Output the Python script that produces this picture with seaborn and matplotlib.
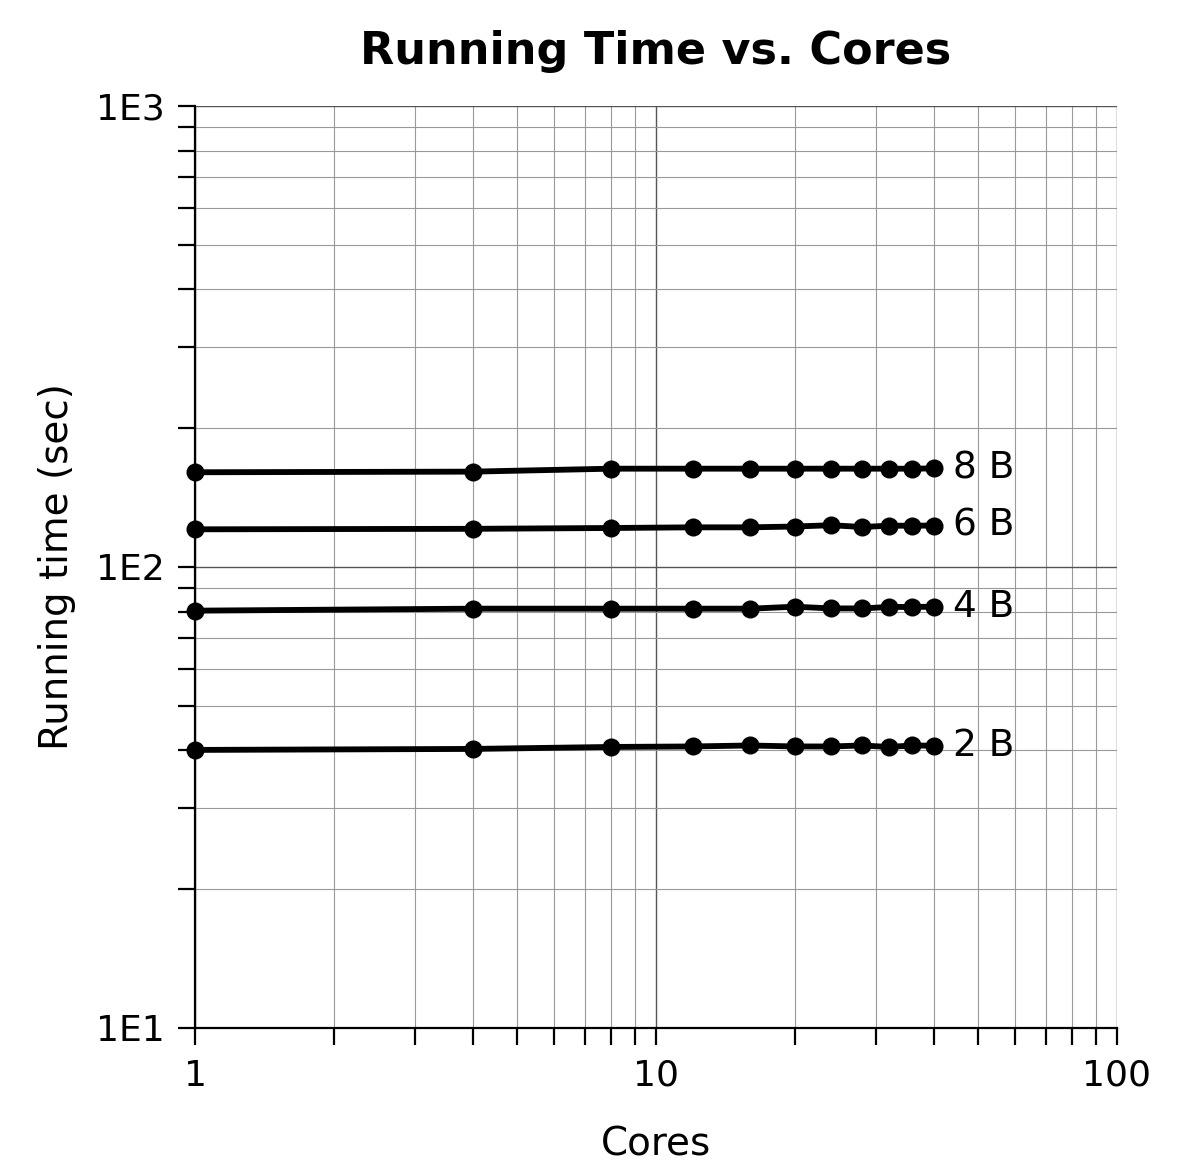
import numpy as np
import pandas as pd
import matplotlib
matplotlib.use("Agg")
import matplotlib.pyplot as plt
import matplotlib.ticker as mticker
import seaborn as sns

cores = [1, 4, 8, 12, 16, 20, 24, 28, 32, 36, 40]
series_names = ["2 B", "4 B", "6 B", "8 B"]
time_2b = [40.1, 40.3, 40.7, 40.8, 41.0, 40.8, 40.8, 41.0, 40.7, 41.0, 40.95]
time_4b = [80.4, 81.2, 81.2, 81.2, 81.2, 82.0, 81.3, 81.3, 81.9, 81.9, 82.0]
time_6b = [120.7, 121.0, 121.5, 121.9, 121.9, 122.4, 123.2, 122.1, 122.9, 122.9, 123.0]
time_8b = [160.5, 161.0, 163.4, 163.4, 163.4, 163.4, 163.4, 163.4, 163.4, 163.4, 163.6]

values = [time_2b, time_4b, time_6b, time_8b]
df = pd.DataFrame({
    "Cores": np.tile(cores, len(series_names)),
    "Time": np.concatenate(values),
    "Series": np.repeat(series_names, len(cores)),
})

sns.set_theme(style="white")
plt.rcParams["font.family"] = ["DejaVu Sans"]

fig = plt.figure(figsize=(11.77, 11.70), dpi=100)
ax = fig.add_axes([0.1657, 0.1214, 0.7833, 0.788])

sns.lineplot(data=df, x="Cores", y="Time", hue="Series", units="Series",
             estimator=None, palette=["black"] * 4, marker="o", markersize=13,
             markeredgewidth=0, linewidth=4.2, legend=False, ax=ax, zorder=3)
for line in ax.lines:
    line.set_clip_on(False)

ax.set_xscale("log")
ax.set_yscale("log")
ax.set_xlim(1, 100)
ax.set_ylim(10, 1000)

ax.xaxis.set_major_locator(mticker.LogLocator(base=10, numticks=10))
ax.xaxis.set_minor_locator(mticker.LogLocator(base=10, subs=np.arange(2, 10), numticks=10))
ax.yaxis.set_major_locator(mticker.LogLocator(base=10, numticks=10))
ax.yaxis.set_minor_locator(mticker.LogLocator(base=10, subs=np.arange(2, 10), numticks=10))
ax.xaxis.set_major_formatter(mticker.FuncFormatter(lambda v, p: f"{v:g}"))
ax.yaxis.set_major_formatter(mticker.FuncFormatter(lambda v, p: f"1E{int(round(np.log10(v)))}"))
ax.xaxis.set_minor_formatter(mticker.NullFormatter())
ax.yaxis.set_minor_formatter(mticker.NullFormatter())

ax.grid(True, which="major", color="#555555", linewidth=1.0)
ax.grid(True, which="minor", color="#999999", linewidth=0.8)
ax.set_axisbelow(True)

for s in ["top", "right"]:
    ax.spines[s].set_visible(False)
for s in ["left", "bottom"]:
    ax.spines[s].set_color("black")
    ax.spines[s].set_linewidth(1.6)

ax.tick_params(which="both", direction="out", length=12, width=1.6, color="black",
               left=True, bottom=True, labelsize=26, labelcolor="black", pad=10)

for name, vals in zip(series_names, values):
    ax.annotate(name, xy=(cores[-1], vals[-1]), xytext=(14, 0), textcoords="offset points",
                va="center", ha="left", fontsize=27, color="black")

ax.set_xlabel("Cores", fontsize=28, color="black", labelpad=24)
ax.set_ylabel("Running time (sec)", fontsize=28, color="black", labelpad=14)
ax.set_title("Running Time vs. Cores", fontsize=32, fontweight="bold", color="black", pad=30)

fig.savefig("out.png", dpi=100, facecolor="white")
